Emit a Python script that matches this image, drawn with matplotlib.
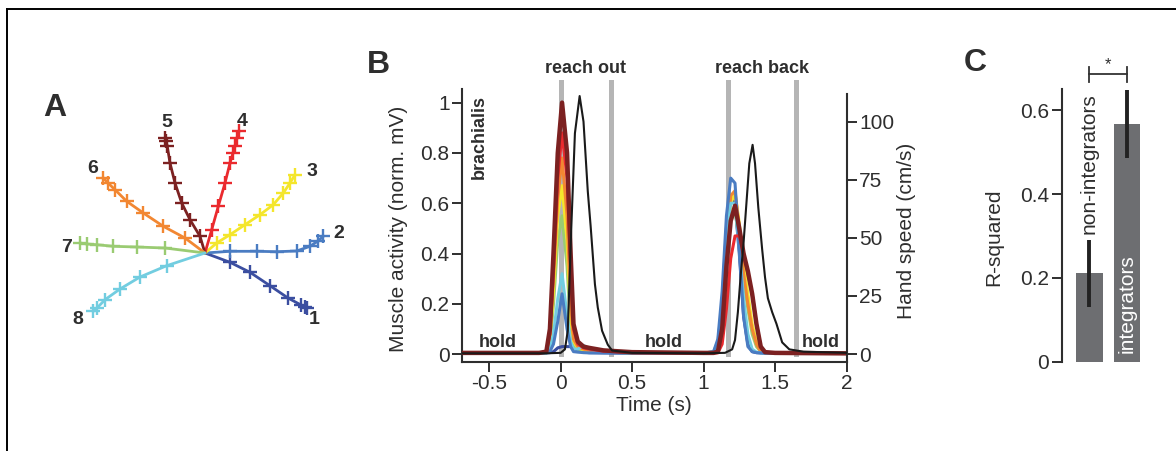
import matplotlib
matplotlib.use("Agg")
import matplotlib.pyplot as plt
from matplotlib.lines import Line2D

plt.rcParams['font.family'] = ['Liberation Sans', 'DejaVu Sans']
TXT = '#2e2e2e'
plt.rcParams['text.color'] = TXT
plt.rcParams['axes.labelcolor'] = TXT
plt.rcParams['xtick.color'] = TXT
plt.rcParams['ytick.color'] = TXT
plt.rcParams['axes.edgecolor'] = TXT

# ---------------- Data ----------------
# Panel A: hand trajectories (cm), directions 1..8
dir_labels = ['1', '2', '3', '4', '5', '6', '7', '8']
dir_colors = ['#3b4ea0', '#4a7cc2', '#f4e62c', '#ea2a2e', '#7c2121', '#f28732', '#9acb72', '#72cde0']
traj_x = [
    [0, 2.5, 4.5, 6.5, 8.3, 9.6, 10.0, 10.2],
    [0, 2.5, 5.17, 7.17, 9.17, 10.5, 11.3, 11.83],
    [0, 1.17, 2.5, 4.0, 5.5, 6.83, 7.83, 8.5, 9.0],
    [0, 0.67, 1.33, 2.0, 2.5, 2.8, 3.0, 3.2, 3.4],
    [0, -0.5, -1.5, -2.33, -3.0, -3.5, -3.77, -3.9, -4.0],
    [0, -2.0, -4.17, -6.17, -7.83, -9.0, -9.7, -10.17],
    [0, -4.0, -6.83, -9.17, -10.83, -11.8, -12.5],
    [0, -3.83, -6.5, -8.5, -10.0, -10.8, -11.17],
]
traj_y = [
    [0, -0.93, -1.93, -3.27, -4.5, -5.2, -5.4, -5.5],
    [0, 0.17, 0.17, 0.13, 0.2, 0.67, 1.2, 1.67],
    [0, 1.0, 1.83, 2.83, 3.83, 4.83, 6.0, 7.0, 7.83],
    [0, 2.33, 4.67, 7.0, 9.0, 10.0, 10.7, 11.5, 12.17],
    [0, 1.67, 3.33, 5.0, 7.0, 9.0, 10.67, 11.2, 11.5],
    [0, 1.5, 2.67, 4.0, 5.17, 6.33, 7.0, 7.5],
    [0, 0.5, 0.6, 0.67, 0.83, 0.9, 1.0],
    [0, -1.27, -2.4, -3.6, -4.67, -5.5, -5.83],
]

# Panel B: EMG (brachialis), normalized, per direction
t_emg = [-0.69, -0.15, -0.1, -0.075, -0.05, -0.02, 0.01, 0.045, 0.07, 0.09, 0.12, 0.16, 0.2, 0.3, 0.5,
         1.0, 1.07, 1.1, 1.13, 1.16, 1.19, 1.22, 1.25, 1.28, 1.31, 1.34, 1.37, 1.4, 1.43, 1.5, 2.0]
emg = {
    '1': [0.004, 0.004, 0.005, 0.006, 0.01, 0.025, 0.03, 0.03, 0.03, 0.025, 0.015, 0.008, 0.006, 0.005, 0.004,
          0.004, 0.005, 0.04, 0.2, 0.5, 0.62, 0.6, 0.4, 0.15, 0.04, 0.01, 0.006, 0.005, 0.004, 0.004, 0.003],
    '2': [0.004, 0.004, 0.005, 0.01, 0.04, 0.13, 0.24, 0.1, 0.03, 0.01, 0.008, 0.006, 0.005, 0.005, 0.004,
          0.004, 0.01, 0.06, 0.25, 0.55, 0.7, 0.68, 0.42, 0.15, 0.03, 0.01, 0.006, 0.005, 0.004, 0.004, 0.003],
    '3': [0.004, 0.004, 0.006, 0.06, 0.25, 0.55, 0.67, 0.45, 0.15, 0.05, 0.025, 0.018, 0.015, 0.01, 0.005,
          0.004, 0.005, 0.02, 0.12, 0.4, 0.6, 0.64, 0.52, 0.36, 0.24, 0.12, 0.05, 0.01, 0.006, 0.004, 0.003],
    '4': [0.005, 0.005, 0.01, 0.08, 0.33, 0.7, 0.88, 0.7, 0.35, 0.1, 0.04, 0.025, 0.02, 0.012, 0.006,
          0.005, 0.005, 0.005, 0.04, 0.18, 0.38, 0.47, 0.47, 0.4, 0.32, 0.24, 0.12, 0.03, 0.008, 0.005, 0.003],
    '5': [0.005, 0.005, 0.01, 0.1, 0.4, 0.8, 1.0, 0.8, 0.4, 0.12, 0.05, 0.03, 0.025, 0.015, 0.008,
          0.005, 0.005, 0.01, 0.1, 0.35, 0.53, 0.59, 0.5, 0.4, 0.33, 0.24, 0.12, 0.03, 0.008, 0.005, 0.003],
    '6': [0.004, 0.004, 0.006, 0.08, 0.3, 0.62, 0.78, 0.55, 0.2, 0.06, 0.03, 0.02, 0.015, 0.01, 0.005,
          0.004, 0.005, 0.02, 0.12, 0.42, 0.63, 0.65, 0.5, 0.32, 0.2, 0.1, 0.04, 0.01, 0.006, 0.004, 0.003],
    '7': [0.004, 0.004, 0.005, 0.04, 0.2, 0.45, 0.55, 0.35, 0.1, 0.03, 0.02, 0.015, 0.012, 0.008, 0.005,
          0.004, 0.005, 0.02, 0.1, 0.35, 0.53, 0.57, 0.45, 0.3, 0.18, 0.08, 0.03, 0.01, 0.005, 0.004, 0.003],
    '8': [0.004, 0.004, 0.005, 0.02, 0.08, 0.22, 0.32, 0.15, 0.05, 0.02, 0.02, 0.035, 0.02, 0.01, 0.005,
          0.004, 0.01, 0.05, 0.2, 0.48, 0.6, 0.6, 0.42, 0.22, 0.08, 0.02, 0.008, 0.005, 0.004, 0.004, 0.003],
}
draw_order = ['1', '7', '3', '6', '8', '2', '4', '5']

# Hand speed (cm/s)
t_speed = [-0.69, -0.1, 0.0, 0.03, 0.05, 0.075, 0.10, 0.133, 0.16, 0.19, 0.21, 0.24, 0.26, 0.29, 0.33, 0.36, 0.5,
           1.0, 1.15, 1.2, 1.22, 1.24, 1.26, 1.28, 1.30, 1.32, 1.343, 1.36, 1.383, 1.41, 1.43, 1.45, 1.48, 1.51,
           1.55, 1.6, 1.7, 2.0]
speed = [0.3, 0.3, 0.5, 2, 10, 55, 95, 111, 100, 70, 55, 30, 20, 10, 4, 1.5, 0.5,
         0.3, 0.5, 2, 6, 18, 34, 48, 65, 82, 90, 82, 63, 45, 33, 24, 18, 13,
         5, 2, 1, 0.5]

event_times = [0.0, 0.35, 1.172, 1.647]
phase_labels = ['reach out', 'reach back']
hold_times = [-0.44, 0.72, 1.82]

# Panel C
groups = ['non-integrators', 'integrators']
r2 = [0.211, 0.567]
r2_lo = [0.131, 0.485]
r2_hi = [0.29, 0.648]

# ---------------- Figure ----------------
W, H = 1176, 451
fig = plt.figure(figsize=(W / 100, H / 100), dpi=100)


def fx(px):
    return px / W


def fy(py):
    return 1 - py / H


# frame lines (cropped border)
fig.add_artist(Line2D([fx(7), 1.0], [fy(9), fy(9)], color='black', lw=1.4))
fig.add_artist(Line2D([fx(7), fx(7)], [fy(9), 0.0], color='black', lw=1.4))

# ---------- Panel A ----------
axA = fig.add_axes([fx(30), fy(360), fx(330), 280 / H])
axA.set_xlim(-17.5, 15.5)
axA.set_ylim(-10.7, 17.3)
axA.axis('off')
label_off = [(5, -8), (11, 2), (12, 2), (2, 7), (1.5, 11), (-8, 7), (-10, -3), (-11.5, -6)]
for i in range(8):
    axA.plot(traj_x[i], traj_y[i], color=dir_colors[i], lw=2.0, zorder=2, solid_capstyle='round')
    axA.plot(traj_x[i][1:], traj_y[i][1:], ls='none', marker='+', ms=10, mew=1.7,
             color=dir_colors[i], zorder=3)
    axA.annotate(dir_labels[i], (traj_x[i][-1], traj_y[i][-1]), xytext=label_off[i],
                 textcoords='offset points', ha='center', va='center',
                 fontsize=14, fontweight='bold', color=TXT)
fig.text(fx(55), fy(108), 'A', fontsize=23, fontweight='bold', ha='center', va='center', color=TXT)

# ---------- Panel B ----------
axB = fig.add_axes([fx(462), fy(361.7), (846.5 - 462) / W, 272.4 / H])
axB.set_xlim(-0.69, 2.0)
axB.set_ylim(-0.03, 1.053)
for t in event_times:
    axB.plot([t, t], [0, 1.083], color='#b5b5b5', lw=3.6, clip_on=False, zorder=1)
for k in draw_order:
    i = dir_labels.index(k)
    axB.plot(t_emg, emg[k], color=dir_colors[i], lw=3.2 if k == '5' else 2.2, zorder=3)
axB.spines['top'].set_visible(False)
axB.spines['right'].set_visible(False)
for s in ['left', 'bottom']:
    axB.spines[s].set_linewidth(1.5)
axB.set_yticks([0, 0.2, 0.4, 0.6, 0.8, 1.0])
axB.set_yticklabels(['0', '0.2', '0.4', '0.6', '0.8', '1'])
axB.set_xticks([-0.5, 0, 0.5, 1, 1.5, 2])
axB.set_xticklabels(['-0.5', '0', '0.5', '1', '1.5', '2'])
axB.tick_params(labelsize=15, length=7, width=1.4, pad=2)
axB.set_ylabel('Muscle activity (norm. mV)', fontsize=15)
axB.yaxis.set_label_coords(-0.14, 0.487)
axB.set_xlabel('Time (s)', fontsize=15, labelpad=2)
axB.text(-0.57, 1.03, 'brachialis', rotation=90, ha='center', va='top', fontsize=13,
         fontweight='bold', color=TXT)
axB.text((event_times[0] + event_times[1]) / 2, 1.135, phase_labels[0], ha='center', va='center',
         fontsize=13, fontweight='bold', color=TXT, clip_on=False)
axB.text((event_times[2] + event_times[3]) / 2, 1.135, phase_labels[1], ha='center', va='center',
         fontsize=13, fontweight='bold', color=TXT, clip_on=False)
for t in hold_times:
    axB.text(t, 0.048, 'hold', ha='center', va='center', fontsize=13, fontweight='bold', color=TXT)

axS = axB.twinx()
axS.set_ylim(-3.31, 113.9)
axS.plot(t_speed, speed, color='#1a1a1a', lw=1.5, zorder=4)
axS.spines['top'].set_visible(False)
axS.spines['left'].set_visible(False)
axS.spines['bottom'].set_visible(False)
axS.spines['right'].set_linewidth(1.5)
axS.spines['right'].set_bounds(-3.31, 111.8)
axS.set_yticks([0, 25, 50, 75, 100])
axS.tick_params(labelsize=15, length=7, width=1.4, pad=2)
axS.set_ylabel('Hand speed (cm/s)', fontsize=15)
axS.yaxis.set_label_coords(1.131, 0.48)
fig.text(fx(378), fy(65), 'B', fontsize=23, fontweight='bold', ha='center', va='center', color=TXT)

# ---------- Panel C ----------
axC = fig.add_axes([fx(1061.7), fy(361.7), (1142 - 1061.7) / W, 272.4 / H])
xpos = list(range(len(groups)))
axC.bar(xpos, r2, width=0.71, color='#6d6e71', zorder=2)
for i in xpos:
    axC.plot([i, i], [r2_lo[i], r2_hi[i]], color='#222222', lw=2.8, zorder=3, solid_capstyle='butt')
axC.set_xlim(-0.73, 1.4)
axC.set_ylim(0, 0.65)
axC.spines['top'].set_visible(False)
axC.spines['right'].set_visible(False)
axC.spines['bottom'].set_visible(False)
axC.spines['left'].set_linewidth(1.5)
axC.set_xticks([])
axC.set_yticks([0, 0.2, 0.4, 0.6])
axC.set_yticklabels(['0', '0.2', '0.4', '0.6'])
axC.tick_params(labelsize=15, length=7, width=1.4, pad=2)
axC.set_ylabel('R-squared', fontsize=15)
axC.yaxis.set_label_coords(-0.73, 0.458)
axC.text(xpos[0], r2_hi[0] + 0.015, groups[0], rotation=90, ha='center', va='bottom',
         fontsize=15, color=TXT)
axC.text(xpos[1], 0.02, groups[1], rotation=90, ha='center', va='bottom',
         fontsize=15, color='white')
yb = 0.686
axC.plot([0, 1], [yb, yb], color='#333333', lw=1.3, clip_on=False)
axC.plot([0, 0], [yb - 0.018, yb + 0.018], color='#333333', lw=1.3, clip_on=False)
axC.plot([1, 1], [yb - 0.018, yb + 0.018], color='#333333', lw=1.3, clip_on=False)
axC.text(0.5, yb + 0.006, '*', ha='center', va='bottom', fontsize=12, color=TXT, clip_on=False)
fig.text(fx(975), fy(63), 'C', fontsize=23, fontweight='bold', ha='center', va='center', color=TXT)

fig.savefig('out.png', dpi=100)
